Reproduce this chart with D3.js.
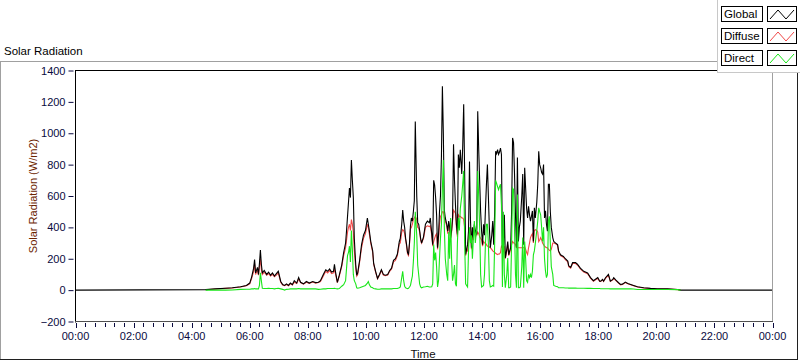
<!DOCTYPE html>
<html>
<head>
<meta charset="utf-8">
<title>Solar Radiation</title>
<script src="https://cdn.jsdelivr.net/npm/d3@7"></script>
<style>
  body { margin: 0; background: #fff; }
  svg { display: block; font-family: Tahoma, "Liberation Sans", Arial, sans-serif; }
</style>
</head>
<body>
<svg id="chart" width="800" height="361"></svg>
<script>
// Minutes after midnight for each sample
const times = [0,
  269, 289, 310, 324, 341, 353, 360, 364, 368, 370, 372, 376, 378, 380, 382, 384, 386, 390, 395, 399,
  403, 407, 411, 415, 419, 424, 428, 432, 436, 440, 444, 448, 452, 457, 461,
  465, 471, 477, 483, 490, 496, 502, 506, 512, 517, 521, 525, 529, 533, 535, 537, 541, 545, 550, 554,
  558, 560, 562, 564, 566, 568, 570, 572, 574, 576, 579, 581, 583, 587, 591, 595, 599, 603, 605, 607,
  610, 614, 616, 620, 624, 628, 632, 636, 640, 645, 649, 653, 657, 661, 665, 669,
  671, 674, 676, 678, 680, 682, 684, 686, 688, 690, 692, 694, 696, 698, 700, 702, 705, 707, 709, 711,
  713, 715, 719, 723, 727, 731,
  733, 736, 738, 740, 742, 744, 746, 748, 750, 752, 754, 756, 758, 760, 762, 764, 767, 769, 771, 773,
  775, 777, 779, 781, 783, 785, 787, 789, 791, 793, 795, 798, 800, 802, 804, 806, 808, 810, 812, 814,
  816, 818, 820, 822, 824, 826, 829, 831, 833, 835, 837, 839, 841, 843, 845, 847, 849, 851, 853, 855,
  857, 860, 862, 864, 866, 868, 870, 872, 874, 876, 878,
  880, 882, 884, 886, 888, 891, 893, 895, 897, 899, 901, 903, 905, 907, 909, 911, 913, 915, 917, 919,
  922, 924, 926, 928, 930, 932, 934, 936, 938, 940, 942, 944, 946, 948, 950, 953, 955, 957, 959, 961,
  963, 965, 967, 969, 971, 973, 975, 977, 979, 981, 983, 986, 988,
  992, 996, 998, 1002, 1008, 1012, 1017, 1019, 1023, 1027, 1033, 1037, 1043, 1050, 1058, 1064, 1070, 1079, 1083,
  1085, 1089, 1091, 1095, 1101, 1105, 1110, 1112, 1116, 1122, 1126, 1130, 1136, 1141, 1147, 1153, 1161,
  1174, 1188, 1202, 1223, 1244, 1250, 1440];

// Global (W/m2)
const globalRad = [0,
  3, 8, 12, 15, 22, 30, 45, 85, 140, 195, 110, 145, 100, 170, 255, 165, 110, 125, 100, 115,
  95, 110, 90, 105, 120, 55, 35, 30, 40, 30, 45, 35, 60, 45, 80,
  50, 40, 55, 45, 55, 48, 50, 60, 100, 130, 120, 135, 115, 120, 165, 120, 50, 95, 160, 240,
  300, 380, 470, 560, 650, 590, 830, 700, 590, 330, 160, 95, 110, 190, 290, 350, 380, 460, 420, 380,
  310, 250, 170, 120, 75, 100, 130, 100, 95, 100, 125, 140, 190, 200, 230, 310,
  330, 420, 510, 440, 400, 330, 290, 240, 230, 300, 410, 460, 440, 500, 570, 1075, 600, 430, 420, 380,
  330, 300, 340, 420, 440, 430,
  460, 360, 290, 700, 670, 590, 480, 270, 350, 500, 600, 850, 1300, 990, 510, 460, 420, 375, 440, 400,
  335, 380, 460, 930, 700, 545, 420, 355, 865, 780, 895, 740, 920, 1185, 740, 227, 260, 290, 375, 820,
  450, 270, 400, 335, 420, 380, 355, 1140, 900, 695, 500, 375, 290, 420, 350, 520, 675, 800, 600, 400,
  270, 350, 440, 290, 500, 885, 870, 895, 865, 880, 905,
  865, 270, 250, 480, 205, 260, 310, 225, 250, 270, 500, 970, 940, 740, 480, 270, 845, 310, 400, 440,
  600, 740, 290, 780, 650, 520, 460, 535, 480, 440, 470, 505, 310, 525, 460, 560, 675, 885, 800, 780,
  750, 740, 800, 460, 505, 420, 375, 675, 675, 500, 400, 335, 310,
  300, 290, 250, 225, 215, 200, 185, 155, 145, 175, 175, 165, 140, 120, 110, 80, 60, 80, 57,
  57, 68, 57, 79, 100, 57, 68, 79, 65, 47, 36, 38, 51, 42, 36, 30, 21,
  15, 11, 8, 8, 4, 0, 0];

// Diffuse (W/m2)
const diffuseRad = [null,
  2, 7, 11, 14, 20, 28, 40, 75, 120, 170, 100, 130, 95, 150, 200, 130, 100, 115, 95, 105,
  90, 100, 85, 95, 110, 50, 32, 28, 36, 28, 42, 33, 50, 42, 70,
  48, 38, 50, 43, 52, 45, 48, 55, 90, 120, 110, 125, 105, 110, 130, 105, 48, 90, 150, 220,
  270, 320, 370, 400, 420, 380, 450, 420, 370, 250, 140, 90, 100, 180, 270, 330, 360, 420, 400, 360,
  300, 240, 165, 115, 72, 95, 125, 96, 92, 96, 120, 135, 180, 190, 220, 295,
  300, 370, 385, 380, 360, 320, 280, 230, 220, 290, 390, 400, 420, 450, 460, 470, 450, 400, 395, 370,
  320, 300, 330, 400, 410, 405,
  410, 350, 280, 310, 330, 350, 360, 260, 330, 420, 470, 480, 500, 500, 460, 440, 410, 360, 430, 390,
  330, 370, 440, 510, 500, 490, 400, 340, 480, 470, 470, 460, 460, 450, 400, 220, 255, 250, 320, 380,
  400, 260, 380, 320, 400, 370, 350, 370, 360, 340, 330, 320, 280, 310, 300, 300, 290, 280, 280, 275,
  270, 260, 250, 245, 240, 235, 230, 227, 230, 230, 240,
  280, 270, 250, 280, 200, 250, 290, 220, 240, 260, 290, 310, 300, 300, 290, 270, 270, 270, 270, 270,
  270, 270, 270, 275, 260, 240, 227, 270, 300, 335, 350, 360, 300, 380, 385, 380, 370, 310, 320, 335,
  320, 300, 290, 280, 275, 270, 270, 260, 255, 250, 260, 300, 300,
  295, 285, 245, 220, 210, 195, 180, 150, 140, 170, 170, 160, 135, 115, 105, 77, 57, 76, 55,
  55, 65, 55, 75, 95, 55, 65, 75, 62, 45, 34, 36, 48, 40, 34, 28, 20,
  14, 10, 7, 7, 3, 0, null];

// Direct (W/m2)
const directRad = [null,
  0, 0, 0, 1, 5, 6, 6, 8, 8, 10, 8, 9, 8, 30, 110, 60, 12, 10, 10, 12,
  10, 10, 8, 10, 12, 8, 5, 0, 5, 6, 8, 8, 8, 8, 10,
  8, 8, 8, 8, 8, 8, 5, 6, 8, 8, 10, 10, 10, 10, 12, 10, 8, 10, 25, 35,
  60, 140, 220, 240, 280, 180, 380, 260, 100, 60, 40, 15, 12, 15, 20, 25, 30, 45, 55, 35,
  20, 15, 10, 8, 6, 6, 8, 8, 8, 8, 8, 8, 10, 10, 10, 15,
  20, 80, 120, 60, 25, 15, 12, 10, 12, 20, 30, 60, 90, 180, 300, 500, 350, 160, 100, 40,
  20, 15, 20, 22, 25, 20,
  20, 22, 40, 290, 190, 240, 150, 20, 60, 200, 330, 420, 650, 830, 400, 200, 100, 60, 370, 200,
  460, 200, 60, 100, 160, 40, 25, 300, 460, 380, 520, 600, 680, 760, 300, 40, 30, 20, 250, 400,
  300, 350, 200, 330, 440, 300, 400, 760, 600, 400, 100, 20, 25, 30, 100, 300, 420, 420, 300, 60,
  20, 25, 30, 25, 300, 700, 680, 660, 640, 660, 675,
  540, 20, 500, 100, 15, 100, 205, 15, 15, 20, 300, 650, 640, 400, 100, 15, 610, 15, 15, 20,
  150, 335, 15, 310, 200, 60, 50, 100, 80, 100, 80, 120, 225, 250, 300, 380, 440, 525, 500, 480,
  400, 310, 400, 200, 120, 80, 100, 440, 470, 300, 150, 100, 30,
  25, 22, 15, 15, 15, 14, 14, 13, 13, 13, 13, 12, 12, 12, 11, 11, 10, 10, 10,
  9, 9, 9, 9, 9, 8, 8, 8, 8, 8, 8, 8, 8, 8, 8, 7, 4,
  4, 4, 4, 4, 3, 0, null];

const yTicks = [-200, 0, 200, 400, 600, 800, 1000, 1200, 1400];
const timeLabels = ["00:00", "02:00", "04:00", "06:00", "08:00", "10:00", "12:00",
                    "14:00", "16:00", "18:00", "20:00", "22:00", "00:00"];

const seriesNames = ["Global", "Diffuse", "Direct"];
const seriesColors = ["#000000", "#f04848", "#19e619"];

document.addEventListener("DOMContentLoaded", () => {
    const svg = d3.select("#chart");
    const labelColor = "#0a0a40";

    // Plot area
    const left = 75, right = 772, top = 70, bottom = 322;

    const x = d3.scaleLinear().domain([0, 1440]).range([left + 0.5, right + 0.5]);
    const y = d3.scaleLinear().domain([-200, 1400]).range([bottom - 0.5, top + 0.5]);

    // Outer panel frame
    svg.append("line").attr("x1", 0).attr("x2", 717).attr("y1", 61.5).attr("y2", 61.5)
        .attr("stroke", "#a0a0a0");
    svg.append("line").attr("x1", 0.5).attr("x2", 0.5).attr("y1", 61.5).attr("y2", 360)
        .attr("stroke", "#a0a0a0");
    svg.append("line").attr("x1", 0).attr("x2", 798).attr("y1", 359.5).attr("y2", 359.5)
        .attr("stroke", "#202020");
    svg.append("line").attr("x1", 797.5).attr("x2", 797.5).attr("y1", 73).attr("y2", 360)
        .attr("stroke", "#202020");

    // Title
    svg.append("text")
        .attr("x", 4).attr("y", 55)
        .attr("font-size", "11.5px")
        .attr("fill", "#000")
        .text("Solar Radiation");

    // Plot frame
    svg.append("line").attr("x1", left + 0.5).attr("x2", right + 0.5).attr("y1", top + 0.5).attr("y2", top + 0.5)
        .attr("stroke", "#000");
    svg.append("line").attr("x1", right + 0.5).attr("x2", right + 0.5).attr("y1", top).attr("y2", bottom)
        .attr("stroke", "#a0a0a0");

    // Y axis
    const yAxis = svg.append("g")
        .attr("transform", `translate(${left - 1.5},0)`)
        .call(d3.axisLeft(y).tickValues(yTicks).tickFormat(d3.format("d")).tickSize(5).tickPadding(3));
    yAxis.select(".domain").remove();
    yAxis.selectAll("line").attr("stroke", labelColor);
    yAxis.selectAll("text").attr("fill", labelColor).attr("font-size", "11px")
        .attr("font-family", "Tahoma, 'Liberation Sans', Arial, sans-serif");
    svg.append("line").attr("x1", left + 0.5).attr("x2", left + 0.5).attr("y1", top).attr("y2", bottom + 0.5)
        .attr("stroke", "#000");

    // X axis: minor ticks every 20 minutes, labels every 2 hours
    const minor = d3.range(0, 1441, 20);
    const major = d3.range(0, 1441, 120);
    svg.append("line").attr("x1", left).attr("x2", right + 1).attr("y1", bottom - 0.5).attr("y2", bottom - 0.5)
        .attr("stroke", "#505050");
    svg.append("g").selectAll("line").data(minor).join("line")
        .attr("x1", d => Math.round(x(d)) + 0.5).attr("x2", d => Math.round(x(d)) + 0.5)
        .attr("y1", bottom + 1).attr("y2", d => major.includes(d) ? bottom + 6 : bottom + 5)
        .attr("stroke", labelColor);
    svg.append("g").selectAll("text").data(major).join("text")
        .attr("x", d => x(d))
        .attr("y", 340)
        .attr("text-anchor", "middle")
        .attr("font-size", "11px")
        .attr("fill", labelColor)
        .text((d, i) => timeLabels[i]);

    // Axis titles
    svg.append("text")
        .attr("x", 423).attr("y", 358)
        .attr("text-anchor", "middle")
        .attr("font-size", "11.5px")
        .attr("fill", "#101010")
        .text("Time");
    svg.append("text")
        .attr("transform", `translate(37,${(top + bottom) / 2}) rotate(-90)`)
        .attr("text-anchor", "middle")
        .attr("font-size", "11px")
        .attr("fill", "#6b2400")
        .text("Solar Radiation (W/m2)");

    // Data lines
    const rows = times.map((t, i) => ({ t, g: globalRad[i], d: diffuseRad[i], b: directRad[i] }));
    svg.append("clipPath").attr("id", "plot-clip")
        .append("rect").attr("x", left + 1).attr("y", top + 1)
        .attr("width", right - left - 1).attr("height", bottom - top - 2);

    const plot = svg.append("g").attr("clip-path", "url(#plot-clip)");
    const keys = ["g", "d", "b"];
    // Diffuse under global, direct drawn last
    [1, 0, 2].forEach(k => {
        const key = keys[k];
        const line = d3.line()
            .defined(r => r[key] != null)
            .x(r => x(r.t))
            .y(r => y(r[key]));
        plot.append("path")
            .datum(rows)
            .attr("d", line)
            .attr("fill", "none")
            .attr("stroke", seriesColors[k])
            .attr("stroke-width", 1.1)
            .attr("stroke-linejoin", "miter");
    });

    // Legend panel
    const legend = svg.append("g");
    legend.append("rect").attr("x", 717).attr("y", -1).attr("width", 84).attr("height", 74)
        .attr("fill", "#fff");
    legend.append("line").attr("x1", 717.5).attr("x2", 717.5).attr("y1", 0).attr("y2", 73)
        .attr("stroke", "#c8c8c8");
    legend.append("line").attr("x1", 717).attr("x2", 800).attr("y1", 72.5).attr("y2", 72.5)
        .attr("stroke", "#c8c8c8");

    seriesNames.forEach((name, i) => {
        const ry = 6 + i * 22;
        legend.append("rect").attr("x", 721.5).attr("y", ry + 0.5).attr("width", 41).attr("height", 15)
            .attr("fill", "#fff").attr("stroke", "#000");
        legend.append("text").attr("x", 724).attr("y", ry + 12)
            .attr("font-size", "11.5px").attr("fill", "#000").text(name);
        legend.append("rect").attr("x", 767.5).attr("y", ry + 0.5).attr("width", 29).attr("height", 15)
            .attr("fill", "#fff").attr("stroke", "#000");
        const icon = [[770, ry + 13], [778, ry + 4], [786, ry + 13], [794, ry + 4]];
        legend.append("path")
            .attr("d", d3.line()(icon))
            .attr("fill", "none")
            .attr("stroke", seriesColors[i])
            .attr("stroke-width", 1);
    });
});
</script>
</body>
</html>
